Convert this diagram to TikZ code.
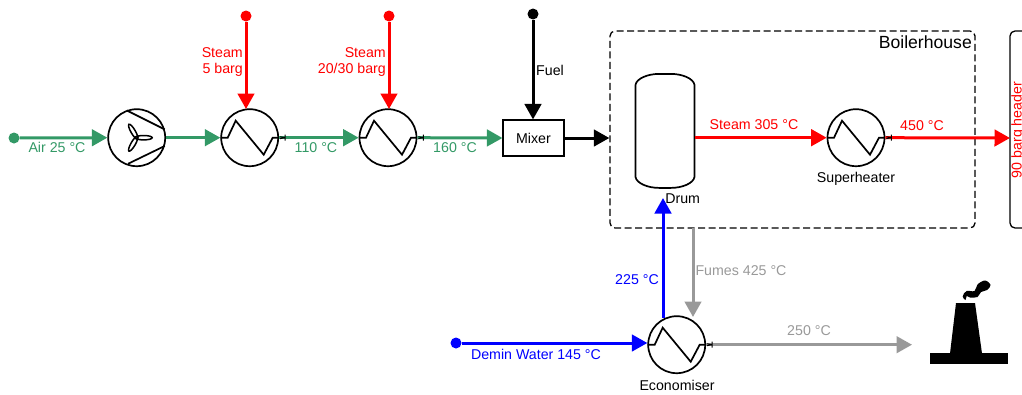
\documentclass[tikz,border=0pt]{standalone}
\usepackage{fontspec}
\setmainfont{Liberation Sans}
\usetikzlibrary{arrows.meta}
\definecolor{airgreen}{RGB}{51,153,102}
\definecolor{fumegray}{RGB}{153,153,153}
\tikzset{
  x=1pt,y=-1pt,
  flow/.style={line width=3pt,-{Triangle[length=15.5pt,width=16.5pt]}},
  hxnode/.style={circle,draw=black,line width=1.7pt,minimum size=57pt,inner sep=0pt,fill=white},
  zig/.style={line width=1.7pt,black,line join=miter},
  enddot/.style={circle,inner sep=0pt,minimum size=11pt},
  lbl/.style={font=\fontsize{14.2}{16}\selectfont,inner sep=0pt},
  tick/.style={black,line width=0.9pt},
  boxnode/.style={draw=black,line width=1.1pt,fill=white,inner sep=0pt},
  dashbox/.style={draw=black,line width=1.3pt,rounded corners=5pt,dash pattern=on 7pt off 3.5pt,inner sep=0pt},
}
\newcommand{\hxunit}[3]{%
  \node[hxnode] (#1) at (#2,#3) {};
  \begin{scope}[shift={(#1.center)}]
    \draw[zig] (-29,0) -- (-22,0) -- (-14,-17) -- (14,17) -- (23,0) -- (29,0);
  \end{scope}}
\begin{document}
\begin{tikzpicture}
\useasboundingbox (0,0) rectangle (1022,394);

% boxes
\node[dashbox,minimum width=365pt,minimum height=197pt] (boiler) at (792.5,129.5) {};
\draw[line width=1.3pt,rounded corners=5pt] (1026,31) -- (1010,31) -- (1010,228) -- (1026,228);
\coordinate (headerin) at (1010,138);

% units
\node[hxnode] (fan) at (136.7,137.7) {};
\begin{scope}[shift={(fan.center)}]
  \draw[zig] (-10,-27.3) -- (28,-8.3);
  \draw[zig] (-8.5,26) -- (28,8.3);
  \foreach \a in {0,120,240}
    \draw[line width=1.5pt,rotate=\a,shift={(-2,0)}] (9,0) ellipse [x radius=8.5pt,y radius=2.2pt];
\end{scope}
\hxunit{hxa}{249.7}{137.7}
\hxunit{hxb}{388}{137.7}
\hxunit{sup}{856}{137.7}
\hxunit{eco}{676.7}{344.7}

\node[boxnode,minimum width=61pt,minimum height=36pt,lbl] (mixer) at (533.5,138) {Mixer};

\node[minimum width=58.6pt,minimum height=113.6pt,inner sep=0pt] (drum) at (665,130.9) {};
\draw[line width=1.7pt,fill=white] ([yshift=-11pt]drum.north west)
  .. controls ++(1,-6.5) and ++(-11,0) .. ([xshift=-6pt]drum.north)
  -- ([xshift=6pt]drum.north)
  .. controls ++(11,0) and ++(-1,-6.5) .. ([yshift=-11pt]drum.north east)
  -- ([yshift=11pt]drum.south east)
  .. controls ++(-1,6.5) and ++(11,0) .. ([xshift=6pt]drum.south)
  -- ([xshift=-6pt]drum.south)
  .. controls ++(-11,0) and ++(1,6.5) .. ([yshift=11pt]drum.south west) -- cycle;

% end points
\node[enddot,fill=airgreen] (airin) at (14,138) {};
\node[enddot,fill=red] (steama) at (246,16) {};
\node[enddot,fill=red] (steamb) at (389,16) {};
\node[enddot,fill=black] (fuel) at (533,14) {};
\node[enddot,fill=blue] (demin) at (456,343) {};
\coordinate (drumfeed) at (663,198);
\coordinate (stack) at (912,344.7);

% connectors
\draw[flow,airgreen] (airin) -- (fan.west);
\draw[flow,airgreen] (fan.east) -- (hxa.west);
\draw[flow,airgreen] (hxa.east) -- (hxb.west);
\draw[flow,airgreen] (hxb.east) -- (mixer.west);
\draw[flow,red] (steama) -- (246,109);
\draw[flow,red] (steamb) -- (389,109);
\draw[flow,black] (fuel) -- (mixer.north -| fuel);
\draw[flow,black] (mixer.east) -- (boiler.west |- mixer.east);
\draw[flow,red] (drum.east |- sup.west) -- (sup.west);
\draw[flow,red] (sup.east) -- (headerin);
\draw[flow,blue] (demin) -- (eco.west |- demin);
\draw[flow,blue] (663,317.5) -- (drumfeed);
\draw[flow,fumegray] (693,228) -- (693,317);
\draw[flow,fumegray] (eco.east) -- (stack);

% outlet ticks
\foreach \u in {hxa,hxb,sup,eco}
  \draw[tick] ([shift={(1,-1)}]\u.east) -- ([shift={(6,0)}]\u.east) ([shift={(6,-3)}]\u.east) -- ([shift={(6,3)}]\u.east) ([shift={(1,1)}]\u.east) -- ([shift={(6,0)}]\u.east);

% stack
\fill (930,353.3) rectangle (1008,363.5);
\fill (956,303) -- (975,303) -- (982,353.5) -- (950,353.5) -- cycle;
\fill plot[smooth cycle,tension=.6] coordinates {(962.7,296.5) (966.5,291) (974.5,291) (977.5,284.5) (985,280.5) (990.5,285) (987,290) (981,292) (977.5,297) (970,297.5) (966.7,296) (965.5,300)};

% labels
\node[lbl,airgreen] (lair) at (57,147.5) {Air 25 °C};
\node[lbl,airgreen] (lb) at (316,148) {110 °C};
\node[lbl,airgreen] (lc) at (455,148) {160 °C};
\node[lbl,red,align=right,anchor=east] (ls) at (243,62) {Steam\\5 barg};
\node[lbl,red,align=right,anchor=east] (lt) at (386,62) {Steam\\20/30 barg};
\node[lbl] (lf) at (550,70) {Fuel};
\node[lbl,font=\fontsize{17.6}{20}\selectfont,anchor=east] (lh) at (972,42) {Boilerhouse};
\node[lbl,red] (l3) at (754,124.5) {Steam 305 °C};
\node[lbl,red] (l4) at (922,126) {450 °C};
\node[lbl] (lsh) at (856,179) {Superheater};
\node[lbl] (ld) at (682.7,199) {Drum};
\node[lbl,red,rotate=90,anchor=base] (lhd) at (1021.5,130) {90 barg header};
\node[lbl,blue] (l2) at (637,280) {225 °C};
\node[lbl,fumegray] (lfu) at (741,270.5) {Fumes 425 °C};
\node[lbl,blue] (ldw) at (536,354) {Demin Water 145 °C};
\node[lbl] (lec) at (677,385) {Economiser};
\node[lbl,fumegray] (l25) at (809,331) {250 °C};
\end{tikzpicture}
\end{document}
